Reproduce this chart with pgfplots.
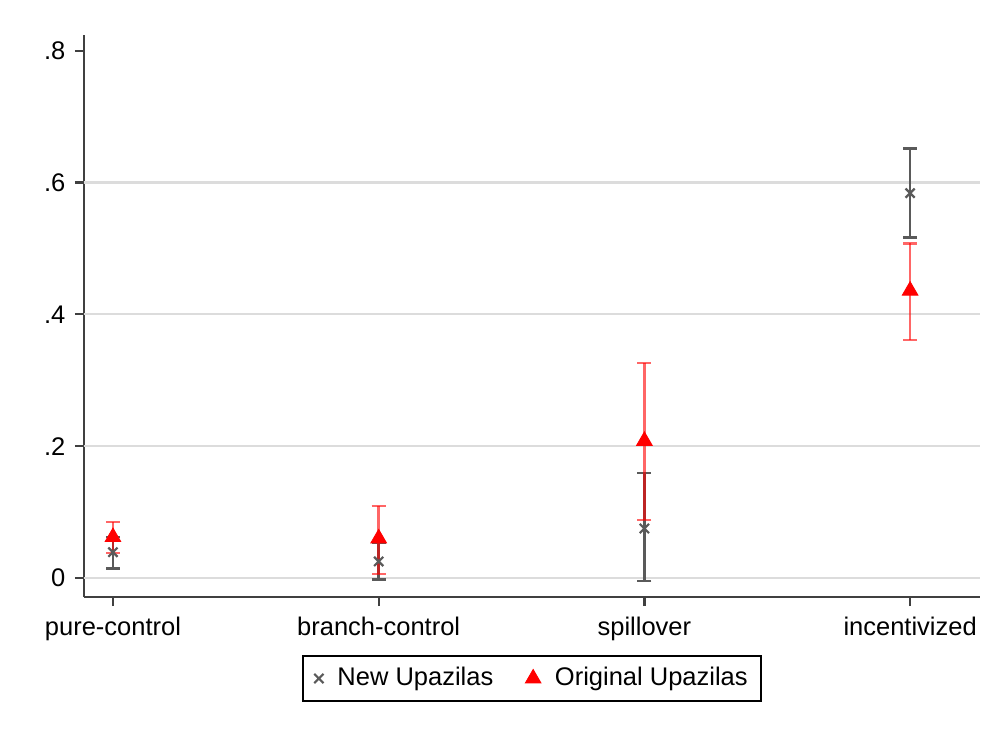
\documentclass[border=0pt]{standalone}
\usepackage{pgfplots}
\pgfplotsset{compat=1.18}
\usepackage{pgfplotstable}
\usepackage{fontspec}
\setmainfont{Liberation Sans}

\definecolor{newgray}{HTML}{5A5A5A}
\definecolor{axisgray}{HTML}{404040}
\definecolor{gridgray}{HTML}{DCDCDC}

% estimate, upper and lower distance to the 95% CI bounds
\pgfplotstableread{
x   y      ep     em
0   0.039  0.023  0.025
1   0.025  0.029  0.027
2   0.075  0.084  0.080
3   0.584  0.068  0.067
}\newupa
\pgfplotstableread{
x   y      ep     em
0   0.062  0.023  0.024
1   0.060  0.049  0.054
2   0.208  0.118  0.120
3   0.436  0.072  0.075
}\origupa

\begin{document}
\fontsize{25.5pt}{30pt}\selectfont
\begin{tikzpicture}
\useasboundingbox (-84pt,-132pt) rectangle (913pt,35pt+562pt);
\begin{axis}[
  at={(0,0)}, anchor=south west,
  scale only axis, width=896pt, height=562pt,
  xmin=-0.109, xmax=3.263,
  ymin=-0.029, ymax=0.824,
  axis x line*=bottom, axis y line*=left,
  axis line style={axisgray, line width=2.2pt, -},
  xtick={0,1,2,3},
  xticklabels={pure-control,branch-control,spillover,incentivized},
  ytick={0,0.2,0.4,0.6,0.8},
  yticklabels={0,.2,.4,.6,.8},
  tick style={axisgray, line width=2.2pt},
  major tick length=9pt,
  tick align=outside,
  xticklabel style={font=\fontsize{25.5pt}{30pt}\selectfont, yshift=-2pt},
  yticklabel style={font=\fontsize{25.5pt}{30pt}\selectfont, xshift=-1pt},
  /pgf/number format/assume math mode=true,
  extra y ticks={0,0.2,0.4,0.6},
  extra y tick labels={},
  extra y tick style={grid=major, major tick length=0pt},
  major grid style={gridgray, line width=2.2pt},
  legend columns=2,
  legend style={at={(0.5,-0.1032)}, anchor=north,
    draw=black, line width=1.6pt,
    font=\fontsize{25.5pt}{30pt}\selectfont,
    inner xsep=11pt, inner ysep=9.5pt,
    /tikz/every odd column/.append style={column sep=12pt},
    /tikz/every even column/.append style={column sep=30pt}},
  legend cell align=left,
]
\addplot[only marks, mark=x, mark size=6.5pt, newgray,
  mark options={line width=2.2pt},
  error bars/.cd, y dir=both, y explicit,
  error bar style={newgray, line width=2.6pt},
  error mark options={newgray, line width=2.6pt, mark size=7pt, rotate=90}]
  table[x=x, y=y, y error plus=ep, y error minus=em] {\newupa};
\addlegendentry{New Upazilas}
\addplot[only marks, mark=triangle*, mark size=9pt, red,
  mark options={red, fill=red, line width=0.8pt},
  error bars/.cd, y dir=both, y explicit,
  error bar style={red, opacity=0.6, line width=2.6pt},
  error mark options={red, opacity=0.6, line width=2.6pt, mark size=7pt, rotate=90}]
  table[x=x, y=y, y error plus=ep, y error minus=em] {\origupa};
\addlegendentry{Original Upazilas}
\end{axis}
\end{tikzpicture}
\end{document}
